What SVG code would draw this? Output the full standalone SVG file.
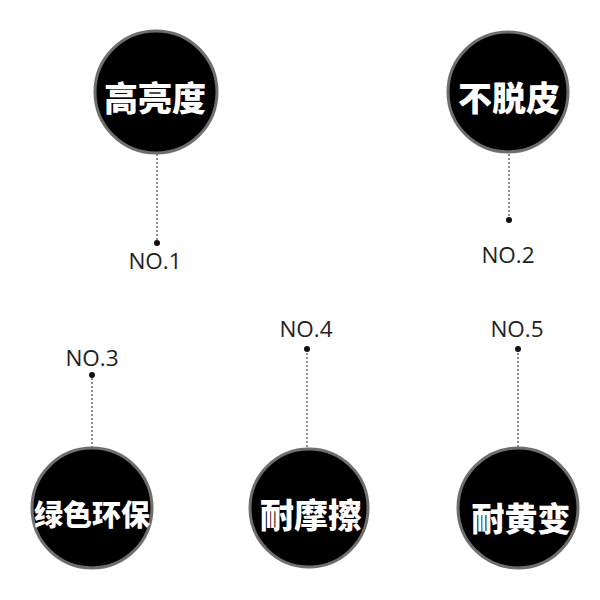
<svg xmlns="http://www.w3.org/2000/svg" width="600" height="600" viewBox="0 0 600 600">
<style>
.c{fill:#000;stroke:#6e6e6e;stroke-width:3}
.t{fill:#fff;font-family:"Noto Sans CJK SC",sans-serif;font-weight:900;text-anchor:middle;dominant-baseline:central}
.n{fill:#222;font-family:"Open Sans","Noto Sans",sans-serif;font-size:22.5px;text-anchor:middle}
.d{fill:#111}
.l{stroke:#444;stroke-width:1.2;stroke-dasharray:2 2;fill:none}
</style>
<rect width="600" height="600" fill="#fff"/>
<g id="connectors">
<line class="l" x1="157" y1="154" x2="157" y2="243"/>
<line class="l" x1="509" y1="154" x2="509" y2="220"/>
<line class="l" x1="92" y1="374" x2="92" y2="447"/>
<line class="l" x1="307" y1="349" x2="307" y2="447"/>
<line class="l" x1="518" y1="349" x2="518" y2="447"/>
<circle class="d" cx="157" cy="243" r="3"/>
<circle class="d" cx="509" cy="220" r="3"/>
<circle class="d" cx="92" cy="375" r="3"/>
<circle class="d" cx="307" cy="349" r="3"/>
<circle class="d" cx="518" cy="349" r="3"/>
</g>
<g id="node1">
<circle class="c" cx="156" cy="92" r="61"/>
<text class="t" x="155" y="96" font-size="34">高亮度</text>
<text class="n" x="155" y="269">NO.1</text>
</g>
<g id="node2">
<circle class="c" cx="508" cy="92" r="60"/>
<text class="t" x="509" y="96" font-size="34">不脱皮</text>
<text class="n" x="508" y="263">NO.2</text>
</g>
<g id="node3">
<circle class="c" cx="92" cy="508" r="60"/>
<text class="t" x="92" y="513" font-size="29">绿色环保</text>
<text class="n" x="92" y="366">NO.3</text>
</g>
<g id="node4">
<circle class="c" cx="309" cy="508" r="59"/>
<text class="t" x="311" y="513" font-size="34">耐摩擦</text>
<text class="n" x="306" y="337">NO.4</text>
</g>
<g id="node5">
<circle class="c" cx="518" cy="508" r="60"/>
<text class="t" x="521" y="517" font-size="33">耐黄变</text>
<text class="n" x="517" y="337">NO.5</text>
</g>
</svg>
